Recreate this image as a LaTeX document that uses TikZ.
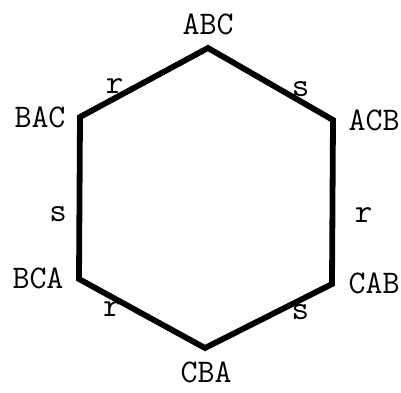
\documentclass[tikz,border=0pt]{standalone}
\usepackage{tikz}
\usetikzlibrary{positioning}
\tikzset{
  perm/.style={font=\ttfamily\fontsize{16.5}{18}\selectfont, inner sep=1pt},
  gen/.style={font=\ttfamily\fontsize{17}{18}\selectfont, inner sep=1pt},
  side/.style={line width=2.9pt, line join=miter},
}

\begin{document}
\begin{tikzpicture}[x=0.5pt,y=-0.5pt]
\useasboundingbox (0,0) rectangle (401,392);
% corners of the hexagon
\coordinate (abc) at (208,48);
\coordinate (acb) at (333,120);
\coordinate (cab) at (332,284);
\coordinate (cba) at (205,348);
\coordinate (bca) at (79,279);
\coordinate (bac) at (80,117);
\draw[side] (abc) -- (acb) -- (cab) -- (cba) -- (bca) -- (bac) -- cycle;
% permutations
\node[perm] (nabc) at (208,24) {ABC};
\node[perm] (nacb) at (374,120) {ACB};
\node[perm] (ncab) at (374,283) {CAB};
\node[perm] (ncba) at (206,372) {CBA};
\node[perm] (nbca) at (38,278) {BCA};
\node[perm] (nbac) at (40,117) {BAC};
% generators on the sides
\path (bac) -- node[gen, pos=.27, above=1pt] {r} (abc);
\path (abc) -- node[gen, pos=.74, above=1pt] {s} (acb);
\path (acb) -- node[gen, pos=.58, right=10pt] {r} (cab);
\path (bac) -- node[gen, pos=.6, left=5pt] {s} (bca);
\path (bca) -- node[gen, pos=.26, below=1pt] {r} (cba);
\path (cba) -- node[gen, pos=.75, below=1pt] {s} (cab);
\end{tikzpicture}
\end{document}
